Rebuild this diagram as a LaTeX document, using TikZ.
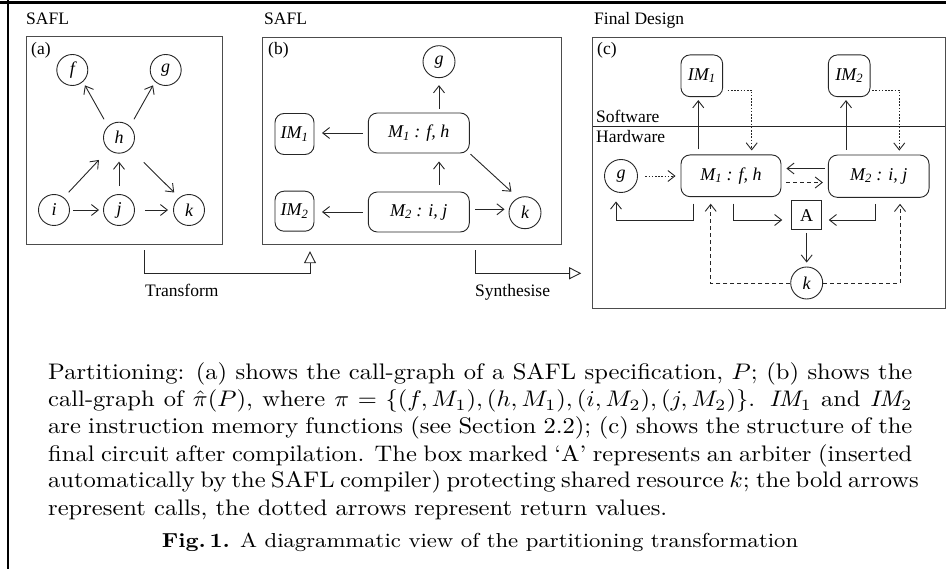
\documentclass[tikz,border=0pt]{standalone}
\usepackage{fontspec}
\usepackage{graphicx}
\usetikzlibrary{arrows.meta,calc}
\newfontfamily\tms{Liberation Serif}
\newcommand{\capline}[1]{\scalebox{2.455}[2.25]{\fontsize{10}{12}\selectfont\makebox[352pt][s]{#1}}}
\newcommand{\caplast}[1]{\scalebox{2.455}[2.25]{\fontsize{10}{12}\selectfont\makebox[352pt][l]{#1}}}
\tikzset{
  ln/.style={line width=0.9pt, draw=black!85},
  barb/.style={-{Straight Barb[length=7pt,width=11pt]}},
  circ/.style={circle, draw=black!85, line width=0.9pt, minimum size=31pt, inner sep=0pt,
    font=\tms\fontsize{18}{18}\selectfont\itshape},
  rbox/.style={rectangle, rounded corners=9pt, draw=black!85, line width=0.9pt, inner sep=0pt,
    font=\tms\fontsize{18}{18}\selectfont\itshape},
  sqbox/.style={rectangle, draw=black!85, line width=0.9pt, inner sep=0pt,
    font=\tms\fontsize{18}{18}\selectfont},
  panel/.style={rectangle, draw=black!70, line width=1pt, inner sep=0pt},
  lbl/.style={anchor=base west, inner sep=0pt, font=\tms\fontsize{17.5}{18}\selectfont},
  capl/.style={anchor=base west, inner sep=0pt},
  call/.style={ln, barb},
  ret/.style={ln, barb, dash pattern=on 1.6pt off 1.6pt},
  retd/.style={ln, barb, dash pattern=on 4pt off 3pt},
  flow/.style={ln, -{Triangle[open,length=12pt,width=12pt,fill=white]}},
}
\begin{document}
\begin{tikzpicture}[x=1pt,y=-1pt]
\useasboundingbox (0,0) rectangle (946,569);
% outer frame
\draw[line width=2.6pt] (8,0) -- (8,569);
\draw[line width=3pt] (0,2.3) -- (946,2.3);

% headings
\node[lbl] (ha1) at (26,25) {SAFL};
\node[lbl] (ha2) at (264,25) {SAFL};
\node[lbl] (ha3) at (594,25) {Final Design};

% panels
\node[panel, minimum width=195.3pt, minimum height=208.3pt] (boxa) at (124.35,140.85) {};
\node[panel, minimum width=299pt, minimum height=206.6pt] (boxb) at (412.2,141) {};
\node[panel, minimum width=352.3pt, minimum height=270.6pt] (boxc) at (768.85,173) {};
\node[lbl] (la) at (31,55) {(a)};
\node[lbl] (lb) at (268,55) {(b)};
\node[lbl] (lc) at (597,55) {(c)};

% ---------- panel (a)
\node[circ] (fa) at (72.3,70) {f};
\node[circ] (ga) at (165.7,70) {g};
\node[circ] (ha) at (119,137.7) {h};
\node[circ] (ia) at (54,210) {i};
\node[circ] (ja) at (119,210) {j};
\node[circ] (ka) at (189,210) {k};
\draw[call, shorten <=8pt, shorten >=4pt] (ha.134) -- (fa.312);
\draw[call, shorten <=8pt, shorten >=4pt] (ha.46) -- (ga.228);
\draw[call, shorten <=7pt, shorten >=14pt] (ia.52) -- (ha.229);
\draw[call, shorten <=8pt, shorten >=8pt] (ja.north) -- (ha.south);
\draw[call, shorten <=19pt, shorten >=7pt] (ha.-45) -- (ka.128);
\draw[call, shorten <=3pt, shorten >=4pt] (ia.east) -- (ja.west);
\draw[call, shorten <=10pt, shorten >=5pt] (ja.east) -- (ka.west);

% ---------- panel (b)
\node[circ, minimum size=32pt] (gb) at (439,61.7) {g};
\node[rbox, minimum width=39pt, minimum height=41pt] (IM1b) at (294.5,134) {IM\textsubscript{1}};
\node[rbox, minimum width=101pt, minimum height=40pt] (M1b) at (418.8,133) {M\textsubscript{1} : f, h};
\node[rbox, minimum width=39pt, minimum height=40pt] (IM2b) at (294.5,211.2) {IM\textsubscript{2}};
\node[rbox, minimum width=101pt, minimum height=40pt] (M2b) at (418.8,212) {M\textsubscript{2} : i, j};
\node[circ, minimum size=32pt] (kb) at (525,212.7) {k};
\draw[call, shorten <=4pt, shorten >=7pt] (gb.south |- M1b.north) -- (gb.south);
\draw[call, shorten <=5pt, shorten >=7.5pt] (M1b.west) -- (IM1b.east |- M1b.west);
\draw[call, shorten <=7pt, shorten >=8pt] (gb.south |- M2b.north) -- (gb.south |- M1b.south);
\draw[call, shorten <=1pt, shorten >=9pt] (M1b.south east) -- (kb.115);
\draw[call, shorten <=5pt, shorten >=7.5pt] (M2b.west) -- (IM2b.east |- M2b.west);
\draw[call, shorten <=5.5pt, shorten >=4pt] ([yshift=2.7pt]M2b.east) -- ([yshift=2.7pt]M2b.east -| kb.west);

% ---------- panel (c)
\coordinate (divl) at (592.7,126);
\coordinate (divr) at (945,126);
\draw[ln] (divl) -- (divr);
\node[lbl] (sw) at (596,122.5) {Software};
\node[lbl] (hw) at (596,143) {Hardware};
\node[rbox, minimum width=41.7pt, minimum height=41.7pt] (IM1c) at (701.8,75.8) {IM\textsubscript{1}};
\node[rbox, minimum width=41.7pt, minimum height=41.7pt] (IM2c) at (849.2,75.8) {IM\textsubscript{2}};
\node[circ, minimum size=33pt] (gc) at (621,176) {g};
\node[rbox, minimum width=100pt, minimum height=41.7pt] (M1c) at (731,175.8) {M\textsubscript{1} : f, h};
\node[rbox, minimum width=100.7pt, minimum height=42.3pt] (M2c) at (878.7,176.2) {M\textsubscript{2} : i, j};
\node[sqbox, minimum width=30pt, minimum height=29pt] (A) at (806.7,215.3) {A};
\node[circ, minimum size=32pt] (kc) at (806.7,283) {k};

\draw[call, shorten <=5pt, shorten >=3pt] ([xshift=-32.7pt]M1c.north) -- ([xshift=-32.7pt]M1c.north |- IM1c.south);
\draw[ret, shorten <=4.6pt, shorten >=4pt] ([yshift=-14.2pt]IM1c.east) -| ([xshift=20.7pt]M1c.north);
\draw[call, shorten <=5pt, shorten >=3pt] ([xshift=-32.7pt]M2c.north) -- ([xshift=-32.7pt]M2c.north |- IM2c.south);
\draw[ret, shorten <=1.7pt, shorten >=4pt] ([yshift=-14.2pt]IM2c.east) -| ([xshift=20.6pt]M2c.north);

\draw[ret, shorten <=7.5pt, shorten >=5pt] (gc.east) -- (gc.east -| M1c.west);
\draw[call, shorten <=3pt, shorten >=5pt] ([yshift=7.7pt]M2c.west) -- ([yshift=7.7pt]M2c.west -| M1c.east);
\draw[retd, shorten <=5pt, shorten >=5pt] ([yshift=-6.7pt]M1c.east) -- ([yshift=-6.7pt]M1c.east -| M2c.west);
\draw[call, shorten <=6.6pt, shorten >=8.5pt] ([xshift=-37.7pt]M1c.south) -- ++(0,23.3) -| ([xshift=-5pt]gc.south);
\draw[call, shorten <=6.6pt, shorten >=9pt] ([xshift=2.3pt]M1c.south) |- ([yshift=-4.7pt]A.west);
\draw[call, shorten <=6pt, shorten >=6.6pt] ([xshift=-3.7pt]M2c.south) |- ([yshift=-4.7pt]A.east);
\draw[call, shorten <=2.7pt, shorten >=4pt] (A.south) -- (kc.north);
\draw[retd, shorten >=6.6pt] (kc.west) -| ([xshift=-20.3pt]M1c.south);
\draw[retd, shorten >=6pt] (kc.east) -| ([xshift=21.3pt]M2c.south);

% ---------- transform / synthesise
\draw[flow, shorten <=5pt, shorten >=6.4pt] ([xshift=20pt]boxa.south) -- ++(0,28.3) -| ([xshift=-102.2pt]boxb.south);
\draw[flow, shorten <=5.7pt, shorten >=11pt] ([xshift=62.8pt]boxb.south) |- ([yshift=-100.3pt]boxc.west);
\node[lbl] (tr) at (145,296.7) {Transform};
\node[lbl] (sy) at (475,296.7) {Synthesise};

% ---------- caption
\node[capl] (c1) at (48,380) {\capline{Partitioning: (a) shows the call-graph of a SAFL specification, $P$; (b) shows the}};
\node[capl] (c2) at (48,407) {\capline{call-graph of $\hat{\pi}(P)$, where $\pi=\{(f,M_1),(h,M_1),(i,M_2),(j,M_2)\}$. $\mathit{IM}_1$ and $\mathit{IM}_2$}};
\node[capl] (c3) at (48,434) {\capline{are instruction memory functions (see Section 2.2); (c) shows the structure of the}};
\node[capl] (c4) at (48,461) {\capline{final circuit after compilation. The box marked `A' represents an arbiter (inserted}};
\node[capl] (c5) at (48,488) {\capline{automatically by the SAFL compiler) protecting shared resource $k$; the bold arrows}};
\node[capl] (c6) at (48,515) {\caplast{represent calls, the dotted arrows represent return values.}};
\node[anchor=base, inner sep=0pt] (fig) at (480,547) {\scalebox{2.455}[2.25]{\fontsize{9}{11}\selectfont\textbf{Fig.\,1.} A diagrammatic view of the partitioning transformation}};
\end{tikzpicture}
\end{document}
